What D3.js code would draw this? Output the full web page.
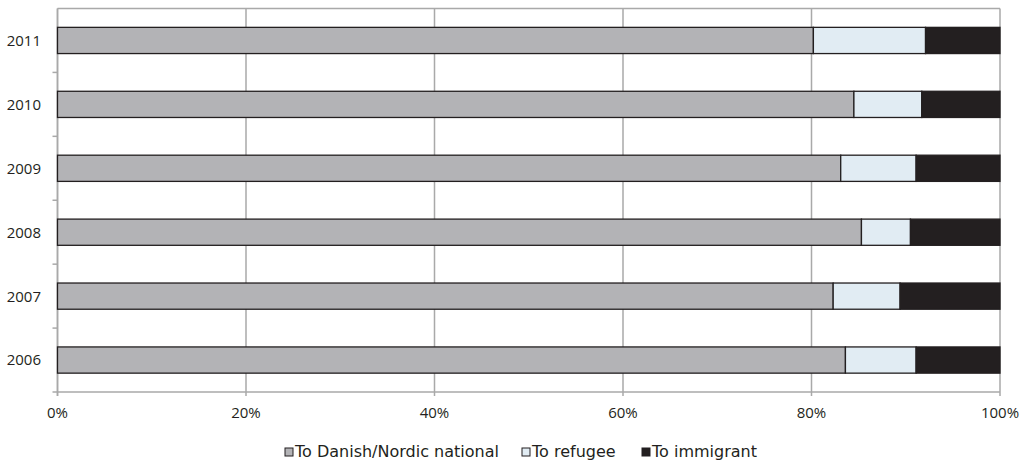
<!DOCTYPE html>
<html><head><meta charset="utf-8">
<script src="https://cdn.jsdelivr.net/npm/d3@7"></script>
<style>body{margin:0;background:#fff}</style>
</head><body>
<svg id="c" width="1026" height="460"></svg>
<script>
const years = ["2011","2010","2009","2008","2007","2006"];
const national = [80.2, 84.5, 83.1, 85.3, 82.3, 83.6];
const refugee  = [11.9, 7.2, 8.0, 5.2, 7.1, 7.5];
const immigrant= [7.9, 8.3, 8.9, 9.5, 10.6, 8.9];
const seriesNames = ["To Danish/Nordic national","To refugee","To immigrant"];
const colors = ["#b3b3b6","#e1ecf3","#231f20"];
const xTicks = [0,20,40,60,80,100];

const svg = d3.select("#c");
const L=57.5, R=1000, T=8.5, B=392;
const x = d3.scaleLinear().domain([0,100]).range([L,R]);
const y = d3.scaleBand().domain(years).range([T,B]).paddingInner(0.59).paddingOuter(0.295);
const yb = d3.scaleBand().domain(years).range([T,B]);

const rows = years.map((yr,i)=>({year:yr, national:national[i], refugee:refugee[i], immigrant:immigrant[i]}));
const stack = d3.stack().keys(["national","refugee","immigrant"])(rows);

// grid
svg.append("g").selectAll("line").data(xTicks).join("line")
  .attr("x1",d=>x(d)).attr("x2",d=>x(d)).attr("y1",T).attr("y2",B+4)
  .attr("stroke","#a9a9a9").attr("stroke-width",1.5);
svg.append("line").attr("x1",L).attr("x2",R).attr("y1",T).attr("y2",T).attr("stroke","#a9a9a9").attr("stroke-width",1.5);
// axes lines
svg.append("line").attr("x1",L).attr("x2",L).attr("y1",T).attr("y2",B+4).attr("stroke","#a9a9a9").attr("stroke-width",1.5);
svg.append("line").attr("x1",L-5).attr("x2",R).attr("y1",B).attr("y2",B).attr("stroke","#a9a9a9").attr("stroke-width",1.5);
// left ticks at band boundaries
const bounds = years.map(d=>yb(d)).slice(1);
svg.append("g").selectAll("line").data(bounds).join("line")
  .attr("x1",L-5).attr("x2",L).attr("y1",d=>d).attr("y2",d=>d)
  .attr("stroke","#a9a9a9").attr("stroke-width",1.5);

// bars
stack.forEach((s,k)=>{
  svg.append("g").selectAll("rect").data(s).join("rect")
    .attr("x",d=>x(d[0])).attr("width",d=>x(d[1])-x(d[0]))
    .attr("y",d=>y(d.data.year)).attr("height",y.bandwidth())
    .attr("fill",colors[k]).attr("stroke","#231f20").attr("stroke-width",1.3);
});

// y labels
svg.append("g").selectAll("text").data(years).join("text")
  .attr("x",41).attr("y",d=>y(d)+y.bandwidth()/2).attr("dy","0.36em")
  .attr("text-anchor","end").attr("font-family","Open Sans, sans-serif").attr("font-size",15)
  .attr("fill","#231f20").text(d=>d);
// x labels
svg.append("g").selectAll("text").data(xTicks).join("text")
  .attr("x",d=>x(d)).attr("y",418).attr("text-anchor","middle")
  .attr("font-family","Open Sans, sans-serif").attr("font-size",15)
  .attr("fill","#231f20").text(d=>d+"%");

// legend
const legX = [285, 522, 642];
const lg = svg.append("g").selectAll("g").data(seriesNames).join("g")
  .attr("transform",(d,i)=>`translate(${legX[i]},448)`);
lg.append("rect").attr("x",0).attr("y",0).attr("width",8).attr("height",8)
  .attr("fill",(d,i)=>colors[i]).attr("stroke","#231f20").attr("stroke-width",1);
lg.append("text").attr("x",10).attr("y",8.7).attr("font-family","DejaVu Sans, sans-serif")
  .attr("font-size",16).attr("fill","#231f20").text(d=>d);
</script>
</body></html>
